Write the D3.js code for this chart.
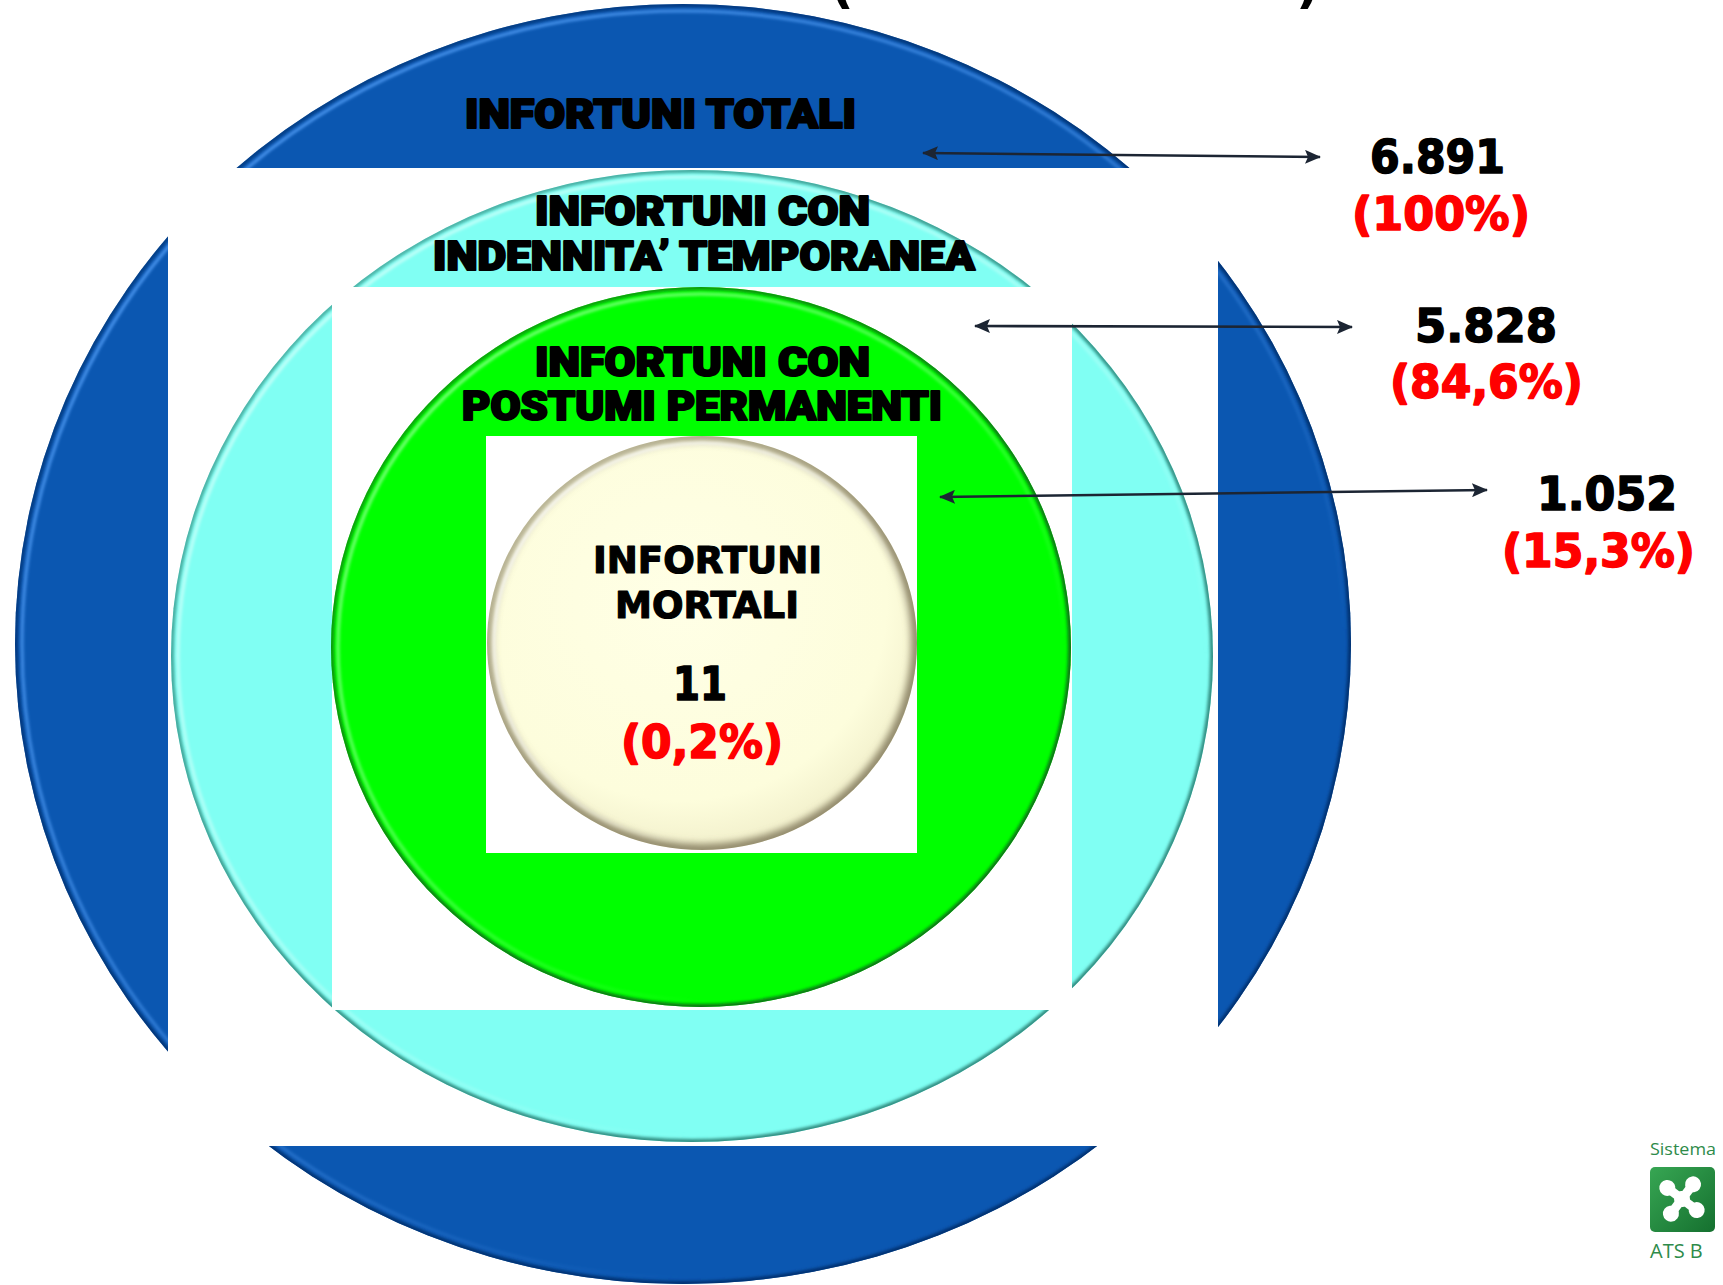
<!DOCTYPE html>
<html>
<head>
<meta charset="utf-8">
<script src="https://cdn.jsdelivr.net/npm/d3@7"></script>
<style>
  html, body { margin: 0; padding: 0; background: #ffffff; overflow: hidden; }
  svg { display: block; }
</style>
</head>
<body>
<script>
// ---------------- DATA ----------------
const categories = [
  "INFORTUNI TOTALI",
  "INFORTUNI CON INDENNITA’ TEMPORANEA",
  "INFORTUNI CON POSTUMI PERMANENTI",
  "INFORTUNI MORTALI"
];
const labelLines = [
  ["INFORTUNI TOTALI"],
  ["INFORTUNI CON", "INDENNITA’ TEMPORANEA"],
  ["INFORTUNI CON", "POSTUMI PERMANENTI"],
  ["INFORTUNI", "MORTALI"]
];
const values = [6891, 5828, 1052, 11];
const logoTexts = ["Sistema", "ATS B"];

// ---------------- LAYOUT / STYLE (not data) ----------------
const W = 1723, H = 1285;
const ringGeom = [
  { cx: 683, cy: 644, rx: 668, ry: 640 },
  { cx: 692, cy: 656, rx: 521, ry: 486 },
  { cx: 701, cy: 647, rx: 370, ry: 360 },
  { cx: 702, cy: 643, rx: 215, ry: 207 }
];
const backRects = [
  null,
  { x: 168, y: 168, w: 1050, h: 978 },
  { x: 332, y: 287, w: 740, h: 723 },
  { x: 486, y: 436, w: 431, h: 417 }
];
const ringFill  = ["#0B57B1", "#80FFF3", "#00FF00", "#FEFEDF"];
const ringEdge  = ["#062f6e", "#2f8a7e", "#0b6e14", "#8c8466"];
const ringLight = ["#5aa6ff", "#d8fffb", "#9dff9d", "#ffffff"];

// label line boxes: [left, baseline, width]
const labelBoxes = [
  [[465, 128, 391]],
  [[535, 225, 335], [433, 270, 542]],
  [[535, 376, 335], [462, 420, 480]],
  [[593, 573, 229], [615, 618, 184]]
];
const valueBoxes = [
  [[1370, 173, 135], [1352, 230, 178]],
  [[1415, 342, 142], [1390, 398, 193]],
  [[1537, 510, 140], [1502, 567, 193]],
  [[673, 700, 54], [621, 758, 162]]
];
const arrows = [
  [923, 153, 1320, 157],
  [975, 326, 1352, 327],
  [940, 497, 1487, 490]
];

// ---------------- FORMAT ----------------
const it = d3.formatLocale({ decimal: ",", thousands: ".", grouping: [3], currency: ["€", ""] });
const fmtInt = it.format(",d");
const total = d3.max(values);
const fmtPct = v => "(" + (v === total ? it.format(".0%")(v / total) : it.format(".1%")(v / total)) + ")";

// ---------------- SVG ----------------
const svg = d3.select("body").append("svg")
  .attr("width", W).attr("height", H)
  .attr("viewBox", `0 0 ${W} ${H}`);

const defs = svg.append("defs");
const blur = defs.append("filter").attr("id", "blur")
  .attr("x", "-5%").attr("y", "-5%").attr("width", "110%").attr("height", "110%");
blur.append("feGaussianBlur").attr("stdDeviation", 1.6);

const blurBig = defs.append("filter").attr("id", "blurBig")
  .attr("x", "-5%").attr("y", "-5%").attr("width", "110%").attr("height", "110%");
blurBig.append("feGaussianBlur").attr("stdDeviation", 3.5);

const idx = d3.range(categories.length);
const colorFill = d3.scaleOrdinal().domain(categories).range(ringFill);
const colorEdge = d3.scaleOrdinal().domain(categories).range(ringEdge);
const colorLight = d3.scaleOrdinal().domain(categories).range(ringLight);

idx.forEach(i => {
  const g = ringGeom[i];
  defs.append("clipPath").attr("id", "clip" + i)
    .append("ellipse").attr("cx", g.cx).attr("cy", g.cy).attr("rx", g.rx).attr("ry", g.ry);
  const eg = defs.append("linearGradient").attr("id", "edgeGrad" + i)
    .attr("x1", "0%").attr("y1", "0%").attr("x2", "100%").attr("y2", "100%");
  eg.append("stop").attr("offset", "0%").attr("stop-color", colorEdge(categories[i])).attr("stop-opacity", 0.55);
  eg.append("stop").attr("offset", "55%").attr("stop-color", colorEdge(categories[i])).attr("stop-opacity", 0.9);
  eg.append("stop").attr("offset", "100%").attr("stop-color", colorEdge(categories[i])).attr("stop-opacity", 1);
  const lg = defs.append("linearGradient").attr("id", "lightGrad" + i)
    .attr("x1", "0%").attr("y1", "0%").attr("x2", "100%").attr("y2", "100%");
  lg.append("stop").attr("offset", "0%").attr("stop-color", colorLight(categories[i])).attr("stop-opacity", 0.95);
  lg.append("stop").attr("offset", "45%").attr("stop-color", colorLight(categories[i])).attr("stop-opacity", 0.5);
  lg.append("stop").attr("offset", "75%").attr("stop-color", colorLight(categories[i])).attr("stop-opacity", 0);
});

const cr = defs.append("radialGradient").attr("id", "creamGrad")
  .attr("cx", "45%").attr("cy", "40%").attr("r", "60%");
cr.append("stop").attr("offset", "0%").attr("stop-color", "#FFFFE6");
cr.append("stop").attr("offset", "80%").attr("stop-color", "#FDFDDC");
cr.append("stop").attr("offset", "100%").attr("stop-color", "#F2F0CC");

const rings = svg.append("g").attr("class", "rings");

idx.forEach(i => {
  const gg = rings.append("g").attr("class", "ring ring-" + i);
  const b = backRects[i];
  if (b) {
    gg.append("rect").attr("x", b.x).attr("y", b.y).attr("width", b.w).attr("height", b.h)
      .attr("fill", "#ffffff");
  }
  const g = ringGeom[i];
  gg.append("ellipse")
    .attr("cx", g.cx).attr("cy", g.cy).attr("rx", g.rx).attr("ry", g.ry)
    .attr("fill", i === 3 ? "url(#creamGrad)" : colorFill(categories[i]));
  const inner = gg.append("g").attr("clip-path", `url(#clip${i})`);
  inner.append("ellipse")
    .attr("cx", g.cx).attr("cy", g.cy).attr("rx", g.rx).attr("ry", g.ry)
    .attr("fill", "none")
    .attr("stroke", `url(#edgeGrad${i})`)
    .attr("stroke-width", i === 3 ? 12 : 6)
    .attr("filter", i === 3 ? "url(#blurBig)" : "url(#blur)");
  inner.append("ellipse")
    .attr("cx", g.cx).attr("cy", g.cy).attr("rx", g.rx - 7).attr("ry", g.ry - 7)
    .attr("fill", "none")
    .attr("stroke", `url(#lightGrad${i})`)
    .attr("stroke-width", 3)
    .attr("filter", "url(#blur)");
});

// ---------------- RING LABELS ----------------
const labels = svg.append("g").attr("class", "labels");
idx.forEach(i => {
  labelLines[i].forEach((line, j) => {
    const [x, y, w] = labelBoxes[i][j];
    labels.append("text")
      .attr("x", x).attr("y", y)
      .attr("textLength", w).attr("lengthAdjust", "spacingAndGlyphs")
      .attr("font-family", i === 3 ? "'DejaVu Sans', Verdana, sans-serif" : "Roboto, 'Open Sans', Lato, sans-serif")
      .attr("font-weight", i === 3 ? 700 : 900)
      .attr("font-size", i === 3 ? 37 : 40)
      .attr("fill", "#000000")
      .attr("stroke", "#000000")
      .attr("stroke-width", i === 3 ? 1.2 : 2.2)
      .attr("stroke-linejoin", "round")
      .text(line);
  });
});

// ---------------- VALUE LABELS ----------------
const vals = svg.append("g").attr("class", "values");
idx.forEach(i => {
  const [nb, pb] = valueBoxes[i];
  vals.append("text")
    .attr("x", nb[0]).attr("y", nb[1])
    .attr("textLength", nb[2]).attr("lengthAdjust", "spacingAndGlyphs")
    .attr("font-family", "'DejaVu Sans', Verdana, sans-serif")
    .attr("font-weight", 700)
    .attr("font-size", 47)
    .attr("fill", "#000000")
    .attr("stroke", "#000000").attr("stroke-width", 1.6).attr("stroke-linejoin", "round")
    .text(fmtInt(values[i]));
  vals.append("text")
    .attr("x", pb[0]).attr("y", pb[1])
    .attr("textLength", pb[2]).attr("lengthAdjust", "spacingAndGlyphs")
    .attr("font-family", "'DejaVu Sans', Verdana, sans-serif")
    .attr("font-weight", 700)
    .attr("font-size", 46)
    .attr("fill", "#FF0000")
    .attr("stroke", "#FF0000").attr("stroke-width", 1.6).attr("stroke-linejoin", "round")
    .text(fmtPct(values[i]));
});

// ---------------- ARROWS ----------------
defs.append("marker").attr("id", "arrowHead")
  .attr("viewBox", "0 0 16 14")
  .attr("refX", 15).attr("refY", 7)
  .attr("markerUnits", "userSpaceOnUse")
  .attr("markerWidth", 16).attr("markerHeight", 14)
  .attr("orient", "auto-start-reverse")
  .append("path").attr("d", "M0,0 L16,7 L0,14 L3,7 Z").attr("fill", "#1C2533");

svg.append("g").attr("class", "arrows")
  .selectAll("line").data(arrows).join("line")
  .attr("x1", d => d[0]).attr("y1", d => d[1])
  .attr("x2", d => d[2]).attr("y2", d => d[3])
  .attr("stroke", "#1C2533").attr("stroke-width", 2.6)
  .attr("marker-start", "url(#arrowHead)")
  .attr("marker-end", "url(#arrowHead)");

// ---------------- CUT-OFF TITLE (only parentheses tails visible, as in the reference) ----------------
const title = svg.append("g").attr("class", "title");
title.append("text").attr("x", 830).attr("y", 2)
  .attr("font-family", "'DejaVu Sans', Verdana, sans-serif").attr("font-weight", 700)
  .attr("font-size", 52).attr("fill", "#000").text("(");
title.append("text").attr("x", 1296).attr("y", 2)
  .attr("font-family", "'DejaVu Sans', Verdana, sans-serif").attr("font-weight", 700)
  .attr("font-size", 52).attr("fill", "#000").text(")");

// ---------------- LOGO ----------------
const logo = svg.append("g").attr("class", "logo");
const lgGrad = defs.append("linearGradient").attr("id", "logoGrad")
  .attr("x1", "0%").attr("y1", "0%").attr("x2", "100%").attr("y2", "100%");
lgGrad.append("stop").attr("offset", "0%").attr("stop-color", "#37A653");
lgGrad.append("stop").attr("offset", "100%").attr("stop-color", "#15702F");
logo.append("text").attr("x", 1650).attr("y", 1155)
  .attr("font-family", "'Open Sans', sans-serif").attr("font-size", 17)
  .attr("textLength", 66).attr("lengthAdjust", "spacingAndGlyphs")
  .attr("fill", "#2E8B4A").text(logoTexts[0]);
logo.append("rect").attr("x", 1650).attr("y", 1167).attr("width", 65).attr("height", 65)
  .attr("rx", 5).attr("fill", "url(#logoGrad)");
const lc = { x: 1682, y: 1199 };
const flower = logo.append("g").attr("fill", "#ffffff").attr("stroke", "#ffffff")
  .attr("transform", `translate(${lc.x},${lc.y}) rotate(-8)`);
[[-13, -13], [13, -13], [-13, 13], [13, 13]].forEach(([dx, dy]) => {
  flower.append("line").attr("x1", 0).attr("y1", 0).attr("x2", dx).attr("y2", dy).attr("stroke-width", 9);
  flower.append("circle").attr("cx", dx).attr("cy", dy).attr("r", 8).attr("stroke", "none");
});
flower.append("circle").attr("r", 8).attr("stroke", "none");
logo.append("text").attr("x", 1650).attr("y", 1258)
  .attr("font-family", "'Open Sans', sans-serif").attr("font-size", 20)
  .attr("fill", "#2E8B4A").text(logoTexts[1]);
</script>
</body>
</html>
